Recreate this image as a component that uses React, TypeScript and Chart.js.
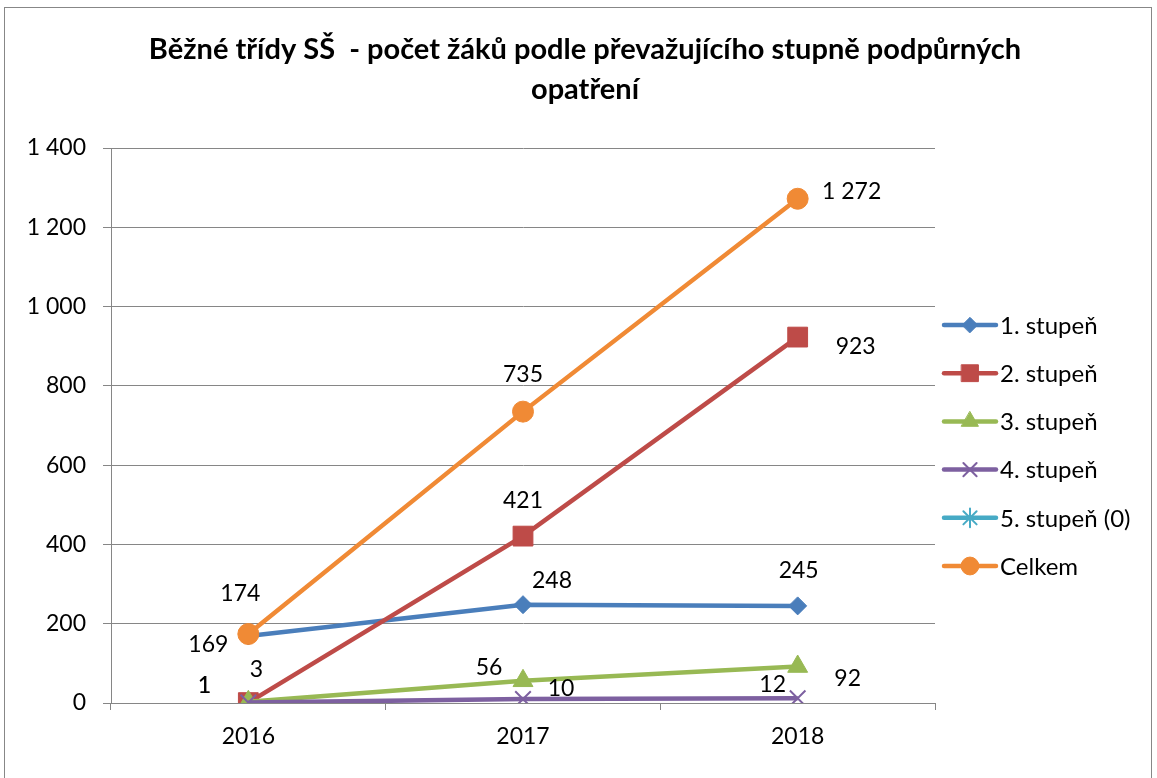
import React, { useEffect, useRef } from "react";
import { Chart, registerables } from "chart.js";
import { drawPoint } from "chart.js/helpers";

Chart.register(...registerables);

const categories = ["2016", "2017", "2018"];
const seriesNames = ["1. stupeň", "2. stupeň", "3. stupeň", "4. stupeň", "5. stupeň (0)", "Celkem"];
const stupen1 = [169, 248, 245];
const stupen2 = [1, 421, 923];
const stupen3 = [3, 56, 92];
const stupen4 = [1, 10, 12];
const stupen5: (number | null)[] = [null, null, null];
const celkem = [174, 735, 1272];
const yTicks = [0, 200, 400, 600, 800, 1000, 1200, 1400];
const titleLines = ["Běžné třídy SŠ  - počet žáků podle převažujícího stupně podpůrných", "opatření"];

const colors = ["#4a7ebb", "#be4b48", "#98b954", "#7d60a0", "#46aac5", "#f08a35"];
const pointStyles = ["rectRot", "rect", "triangle", "crossRot", "star", "circle"];
const pointRadii = [9, 14, 11.5, 11, 11, 10.5];
// label offsets (dx, dy) relative to the point, per series per category
const labelOffsets: [number, number][][] = [
  [[-40, 9], [29, -24], [1, -35]],
  [[-44, -17], [0, -36], [58, 9]],
  [[8, -32], [-34, -13], [50, 12]],
  [[-44, -17], [38, -10], [-25, -14]],
  [[0, 0], [0, 0], [0, 0]],
  [[-8, -40], [0, -37], [54, -7]],
];

const FONT = "Lato, 'Open Sans', sans-serif";

function fmt(v: number): string {
  return String(v).replace(/\B(?=(\d{3})+(?!\d))/g, " ");
}

export default function App() {
  const ref = useRef<HTMLCanvasElement | null>(null);
  useEffect(() => {
    if (!ref.current) return;
    const all = [stupen1, stupen2, stupen3, stupen4, stupen5, celkem];
    const datasets = all.map((d, i) => ({
      label: seriesNames[i],
      data: d,
      borderColor: colors[i],
      backgroundColor: colors[i],
      pointBackgroundColor: colors[i],
      pointBorderColor: colors[i],
      borderWidth: 4.5,
      pointStyle: pointStyles[i],
      pointRadius: pointRadii[i],
      pointBorderWidth: i === 3 || i === 4 ? 2 : 1,
      tension: 0,
      order: 10 - i,
    }));

    const overlay = {
      id: "overlay",
      afterDraw(chart: any) {
        const ctx = chart.ctx;
        ctx.save();
        // title
        ctx.fillStyle = "#000";
        ctx.font = `bold 29px ${FONT}`;
        ctx.textAlign = "center";
        ctx.textBaseline = "middle";
        ctx.fillText(titleLines[0], 585, 50);
        ctx.fillText(titleLines[1], 585, 90);
        // data labels
        ctx.font = `23px ${FONT}`;
        all.forEach((d, i) => {
          const meta = chart.getDatasetMeta(i);
          d.forEach((v, j) => {
            if (v === null) return;
            const pt = meta.data[j];
            const [dx, dy] = labelOffsets[i][j];
            ctx.fillText(fmt(v as number), pt.x + dx, pt.y + dy);
          });
        });
        // legend
        ctx.textAlign = "left";
        ctx.font = `24px ${FONT}`;
        seriesNames.forEach((name, i) => {
          const y = 325 + 48.2 * i;
          ctx.strokeStyle = colors[i];
          ctx.lineWidth = 4.5;
          ctx.lineCap = "round";
          ctx.beginPath();
          ctx.moveTo(944, y);
          ctx.lineTo(996, y);
          ctx.stroke();
          ctx.fillStyle = colors[i];
          ctx.strokeStyle = colors[i];
          const bw = i === 3 || i === 4 ? 2 : 1;
          ctx.lineWidth = bw;
          drawPoint(ctx, { pointStyle: pointStyles[i] as any, radius: pointRadii[i] * 0.85, rotation: 0, borderWidth: bw } as any, 970, y);
          ctx.fillStyle = "#000";
          ctx.fillText(name, 1000, y + 1);
        });
        ctx.restore();
      },
    };

    const chart = new Chart(ref.current, {
      type: "line",
      data: { labels: categories, datasets: datasets as any },
      options: {
        animation: false,
        responsive: false,
        layout: { padding: { left: 0, right: 222, top: 148, bottom: 25 } },
        plugins: { legend: { display: false }, title: { display: false }, tooltip: { enabled: false } },
        scales: {
          x: {
            offset: true,
            grid: { display: true, drawOnChartArea: false, drawTicks: true, tickLength: 7, color: "#868686", offset: true },
            border: { display: true, color: "#868686", width: 1 },
            ticks: { color: "#000", font: { family: FONT, size: 23 }, padding: 13 },
            afterFit(scale: any) { scale.height = 50; },
          },
          y: {
            min: 0,
            max: 1400,
            afterBuildTicks(scale: any) { scale.ticks = yTicks.map((v) => ({ value: v })); },
            grid: { color: "#868686", tickLength: 8, lineWidth: 1 },
            border: { display: true, color: "#868686" },
            ticks: { color: "#000", font: { family: FONT, size: 23 }, padding: 17, callback: (v: any) => fmt(Number(v)) },
            afterFit(scale: any) { scale.width = 111; },
          },
        },
      },
      plugins: [overlay],
    });
    return () => chart.destroy();
  }, []);

  return (
    <div style={{ position: "fixed", left: 0, top: 0, width: 1157, height: 778, background: "#fff" }}>
      <div style={{ position: "absolute", left: 4, top: 7, width: 1148, height: 800, border: "1px solid #878787", boxSizing: "border-box" }} />
      <canvas ref={ref} width={1157} height={778} style={{ position: "absolute", left: 0, top: 0 }} />
    </div>
  );
}
